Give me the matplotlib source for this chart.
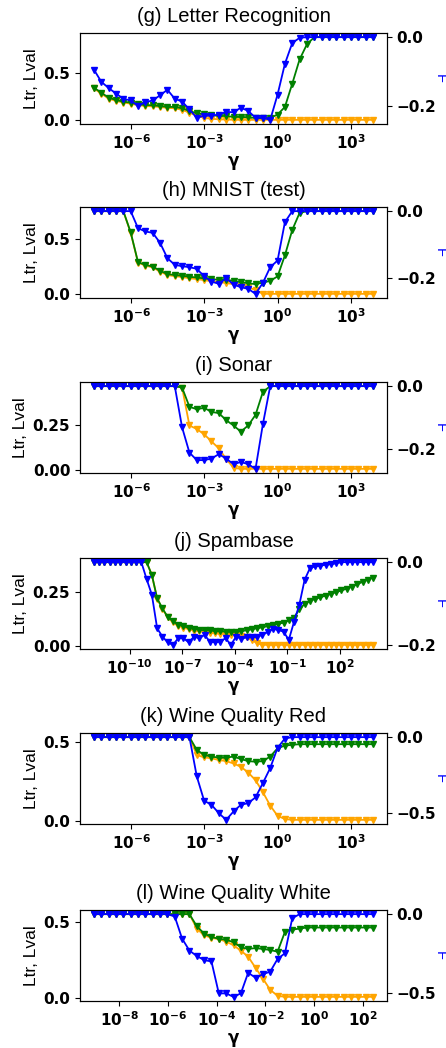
import numpy as np
import matplotlib
matplotlib.use("Agg")
import matplotlib.pyplot as plt
import matplotlib.ticker as mticker

# ---- data ----
titles = ["(g) Letter Recognition", "(h) MNIST (test)", "(i) Sonar",
          "(j) Spambase", "(k) Wine Quality Red", "(l) Wine Quality White"]

# gamma grids (powers of two)
exp_g = list(range(-25, 14))
exp_h = list(range(-25, 14))
exp_i = list(range(-25, 14))
exp_j = list(range(-40, 14))
exp_k = list(range(-25, 14))
exp_l = list(range(-30, 9))

# (g) Letter Recognition
ltr_g = [0.335, 0.280, 0.228, 0.203, 0.186, 0.175, 0.158, 0.150, 0.146, 0.140,
         0.130, 0.126, 0.110, 0.080, 0.048, 0.025, 0.015, 0.010, 0.007, 0.005] + [0.004] * 19
lval_g = [0.343, 0.290, 0.238, 0.213, 0.196, 0.185, 0.168, 0.161, 0.157, 0.150,
          0.140, 0.140, 0.126, 0.098, 0.073, 0.063, 0.056, 0.045, 0.045, 0.035,
          0.035, 0.031, 0.024, 0.021, 0.024, 0.060, 0.140, 0.385, 0.640, 0.800] + [0.875] * 9
f_g = [-0.094, -0.129, -0.147, -0.163, -0.178, -0.183, -0.198, -0.188, -0.183, -0.168,
       -0.152, -0.178, -0.186, -0.209, -0.233, -0.227, -0.227, -0.224, -0.216, -0.217,
       -0.204, -0.213, -0.233, -0.233, -0.239, -0.166, -0.077, -0.017, -0.002] + [0.0] * 10

# (h) MNIST (test)
ltr_h = [0.757] * 5 + [0.56, 0.29, 0.262, 0.245, 0.208, 0.176, 0.166, 0.158, 0.147,
                       0.140, 0.130, 0.120, 0.110, 0.105, 0.092, 0.078, 0.065, 0.040] + [0.005] * 16
lval_h = [0.757] * 5 + [0.565, 0.293, 0.269, 0.253, 0.216, 0.185, 0.176, 0.170, 0.160,
                        0.154, 0.145, 0.139, 0.133, 0.133, 0.123, 0.110, 0.102, 0.093,
                        0.108, 0.123, 0.164, 0.355, 0.586, 0.741] + [0.757] * 10
f_h = [0.0] * 6 + [-0.051, -0.061, -0.065, -0.095, -0.141, -0.161, -0.165, -0.168,
                   -0.173, -0.195, -0.211, -0.218, -0.201, -0.220, -0.228, -0.233,
                   -0.248, -0.215, -0.168, -0.148, -0.033] + [0.0] * 12

# (i) Sonar
ltr_i = [0.473] * 12 + [0.465, 0.25, 0.23, 0.20, 0.16, 0.12, 0.06, 0.01] + [0.004] * 19
lval_i = [0.473] * 12 + [0.465, 0.356, 0.342, 0.35, 0.327, 0.32, 0.28, 0.25, 0.215,
                         0.25, 0.31, 0.44] + [0.473] * 15
f_i = [0.0] * 12 + [-0.132, -0.213, -0.237, -0.237, -0.232, -0.218, -0.232, -0.250,
                    -0.243, -0.250, -0.265, -0.122] + [0.0] * 15

# (j) Spambase
ltr_j = [0.39] * 11 + [0.33, 0.22, 0.172, 0.132, 0.11, 0.094, 0.085, 0.077, 0.071,
                       0.067, 0.063, 0.061, 0.058, 0.056, 0.054, 0.052, 0.050, 0.047,
                       0.040, 0.025, 0.012] + [0.004] * 22
lval_j = [0.39] * 11 + [0.33, 0.221, 0.174, 0.135, 0.115, 0.099, 0.091, 0.083, 0.078,
                        0.075, 0.072, 0.072, 0.068, 0.067, 0.066, 0.066, 0.066, 0.068,
                        0.072, 0.077, 0.082, 0.086, 0.091, 0.096, 0.102, 0.108, 0.118,
                        0.131, 0.170, 0.194, 0.210, 0.218, 0.226, 0.234, 0.242, 0.250,
                        0.258, 0.266, 0.276, 0.287, 0.298, 0.308, 0.318]
f_j = [0.0] * 10 + [-0.041, -0.079, -0.160, -0.180, -0.194, -0.200, -0.184, -0.184,
                    -0.194, -0.180, -0.184, -0.176, -0.192, -0.194, -0.192, -0.184,
                    -0.200, -0.180, -0.185, -0.182, -0.182, -0.180, -0.176, -0.169,
                    -0.161, -0.164, -0.168, -0.188, -0.144, -0.103, -0.043, -0.015,
                    -0.010, -0.009, -0.006, -0.005, -0.003] + [0.0] * 7

# (k) Wine Quality Red
ltr_k = [0.534] * 14 + [0.42, 0.405, 0.399, 0.388, 0.381, 0.366, 0.345, 0.308, 0.259,
                        0.183, 0.097, 0.032, 0.011] + [0.006] * 12
lval_k = [0.534] * 14 + [0.453, 0.42, 0.41, 0.403, 0.403, 0.41, 0.394, 0.381, 0.377,
                         0.381, 0.41, 0.463, 0.48, 0.485] + [0.489] * 11
f_k = [0.0] * 14 + [-0.258, -0.418, -0.445, -0.50, -0.544, -0.489, -0.445, -0.434,
                    -0.396, -0.302, -0.203, -0.07, -0.009] + [0.0] * 12

# (l) Wine Quality White
ltr_l = [0.55] * 14 + [0.455, 0.41, 0.395, 0.385, 0.37, 0.345, 0.31, 0.27, 0.197,
                       0.126, 0.052, 0.013] + [0.006] * 13
lval_l = [0.55] * 14 + [0.471, 0.422, 0.40, 0.388, 0.381, 0.366, 0.332, 0.321, 0.327,
                        0.321, 0.314, 0.303, 0.433, 0.448, 0.455] + [0.462] * 10
f_l = [0.0] * 11 + [-0.015, -0.155, -0.231, -0.265, -0.291, -0.30, -0.502, -0.502,
                    -0.524, -0.502, -0.371, -0.403, -0.381, -0.364, -0.284, -0.248,
                    -0.026] + [0.0] * 11

exps = [exp_g, exp_h, exp_i, exp_j, exp_k, exp_l]
ltrs = [ltr_g, ltr_h, ltr_i, ltr_j, ltr_k, ltr_l]
lvals = [lval_g, lval_h, lval_i, lval_j, lval_k, lval_l]
fs = [f_g, f_h, f_i, f_j, f_k, f_l]
left_ticks = [[0.0, 0.5], [0.0, 0.5], [0.0, 0.25], [0.0, 0.25], [0.0, 0.5], [0.0, 0.5]]
left_labels = [["0.0", "0.5"], ["0.0", "0.5"], ["0.00", "0.25"], ["0.00", "0.25"],
               ["0.0", "0.5"], ["0.0", "0.5"]]
right_ticks = [[-0.2, 0.0], [-0.2, 0.0], [-0.2, 0.0], [-0.2, 0.0], [-0.5, 0.0], [-0.5, 0.0]]
right_labels = [["\u22120.2", "0.0"]] * 4 + [["\u22120.5", "0.0"]] * 2
x_tick_exps = [[-6, -3, 0, 3], [-6, -3, 0, 3], [-6, -3, 0, 3],
               [-10, -7, -4, -1, 2], [-6, -3, 0, 3], [-8, -6, -4, -2, 0, 2]]

# ---- figure ----
plt.rcParams["mathtext.default"] = "bf"
W, H = 446, 1048
fig = plt.figure(figsize=(W / 100, H / 100), dpi=100)
tops = [33, 207, 382, 558, 733, 910]
ax_h = 91
ax_l, ax_r = 80, 387

sans = ["Liberation Sans", "DejaVu Sans"]
TICK_FS = 11

for i in range(6):
    top = tops[i]
    ax = fig.add_axes([ax_l / W, 1 - (top + ax_h) / H, (ax_r - ax_l) / W, ax_h / H])
    x = 2.0 ** np.array(exps[i], dtype=float)
    ax.plot(x, ltrs[i], color="orange", marker="v", markersize=5, lw=1.3)
    ax.plot(x, lvals[i], color="green", marker="v", markersize=5, lw=1.3)
    ax.set_xscale("log")
    xt = [10.0 ** e for e in x_tick_exps[i]]
    ax.set_xticks(xt)
    ax.set_xticklabels([r"$\mathbf{10^{%d}}$" % e for e in x_tick_exps[i]])
    ax.xaxis.set_minor_locator(mticker.NullLocator())
    ax.set_yticks(left_ticks[i])
    ax.set_yticklabels(left_labels[i])
    ax.set_title(titles[i], pad=8, family=sans, fontsize=14.5)
    ax.set_ylabel("Ltr, Lval", labelpad=3, family=sans, fontsize=12.5)
    ax.set_xlabel("γ", fontsize=12, fontweight="bold", labelpad=0)
    ax2 = ax.twinx()
    ax2.plot(x, fs[i], color="blue", marker="v", markersize=5, lw=1.3)
    ax2.set_yticks(right_ticks[i])
    ax2.set_yticklabels(right_labels[i])
    for a in (ax, ax2):
        for lab in a.get_xticklabels() + a.get_yticklabels():
            lab.set_fontweight("bold")
            lab.set_fontsize(TICK_FS)
    # right-axis label (mostly outside the figure, as in the reference)
    fig.text(433 / W, 1 - (top + ax_h / 2) / H, "F", color="blue", rotation=270,
             fontsize=10.5, va="center", ha="left", family=sans)

fig.savefig("out.png", dpi=100)
